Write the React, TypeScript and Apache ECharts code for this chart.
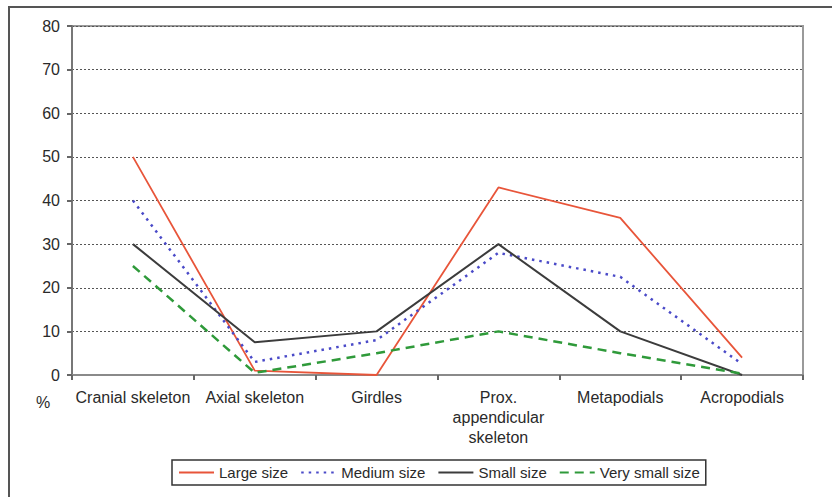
import React, { useEffect, useRef } from "react";
import * as echarts from "echarts";

const categories = [
  "Cranial skeleton",
  "Axial skeleton",
  "Girdles",
  "Prox.\nappendicular\nskeleton",
  "Metapodials",
  "Acropodials",
];
const largeSize = [50, 1, 0, 43, 36, 4];
const mediumSize = [40, 3, 8, 28, 22.5, 2.5];
const smallSize = [30, 7.5, 10, 30, 10, 0];
const verySmallSize = [25, 0.5, 5, 10, 5, 0.3];
const yTicks = { min: 0, max: 80, interval: 10 };

const FONT = "Liberation Sans";

export default function App() {
  const ref = useRef<HTMLDivElement>(null);
  useEffect(() => {
    if (!ref.current) return;
    const chart = echarts.init(ref.current, undefined, { renderer: "svg" });
    const mk = (name: string, data: number[], color: string, width: number, type: any) => ({
      name,
      type: "line",
      data,
      symbol: "none",
      lineStyle: { color, width, type },
      itemStyle: { color },
    });
    chart.setOption({
      animation: false,
      backgroundColor: "#fff",
      textStyle: { fontFamily: FONT },
      grid: {
        left: 72,
        top: 26,
        width: 731,
        height: 349,
        show: true,
        borderColor: "#9a9a9a",
        borderWidth: 2,
        backgroundColor: "transparent",
      },
      legend: {
        left: 172,
        top: 460,
        itemWidth: 35,
        itemHeight: 12,
        itemGap: 12,
        padding: [5, 6, 5, 6],
        borderColor: "#333",
        borderWidth: 1.5,
        borderRadius: 0,
        itemStyle: { opacity: 0 },
        textStyle: { fontFamily: FONT, fontSize: 15, color: "#2a2a2a" },
        data: ["Large size", "Medium size", "Small size", "Very small size"],
      },
      xAxis: {
        type: "category",
        data: categories,
        boundaryGap: true,
        axisLine: { lineStyle: { color: "#8a8a8a", width: 2 } },
        axisTick: { show: true, length: 5, lineStyle: { color: "#666", width: 2 } },
        axisLabel: {
          interval: 0,
          fontFamily: FONT,
          fontSize: 16,
          color: "#2a2a2a",
          margin: 12,
          lineHeight: 20,
        },
        splitLine: { show: false },
      },
      yAxis: {
        type: "value",
        min: yTicks.min,
        max: yTicks.max,
        interval: yTicks.interval,
        axisLine: { show: true, lineStyle: { color: "#777", width: 2 } },
        axisTick: { show: true, length: 5, lineStyle: { color: "#666", width: 2 } },
        axisLabel: { fontFamily: FONT, fontSize: 16, color: "#2a2a2a", margin: 12 },
        splitLine: { show: true, lineStyle: { color: "#555", width: 1, type: [2, 2] } },
      },
      graphic: [
        {
          type: "rect",
          shape: { x: 9, y: 7, width: 840, height: 520 },
          style: { fill: "none", stroke: "#555", lineWidth: 2 },
          silent: true,
        },
        {
          type: "text",
          x: 36,
          y: 394,
          style: { text: "%", fontFamily: FONT, fontSize: 16, fill: "#2a2a2a" },
        },
      ],
      series: [
        mk("Large size", largeSize, "#e8553a", 1.8, "solid"),
        mk("Medium size", mediumSize, "#4a4ac8", 2.5, [2.5, 5]),
        mk("Small size", smallSize, "#3c3c3c", 2, "solid"),
        mk("Very small size", verySmallSize, "#2f9a3a", 2.5, [9, 6]),
      ],
    });
    return () => chart.dispose();
  }, []);
  return (
    <div
      ref={ref}
      style={{ position: "absolute", left: 0, top: 0, width: 832, height: 497 }}
    />
  );
}
